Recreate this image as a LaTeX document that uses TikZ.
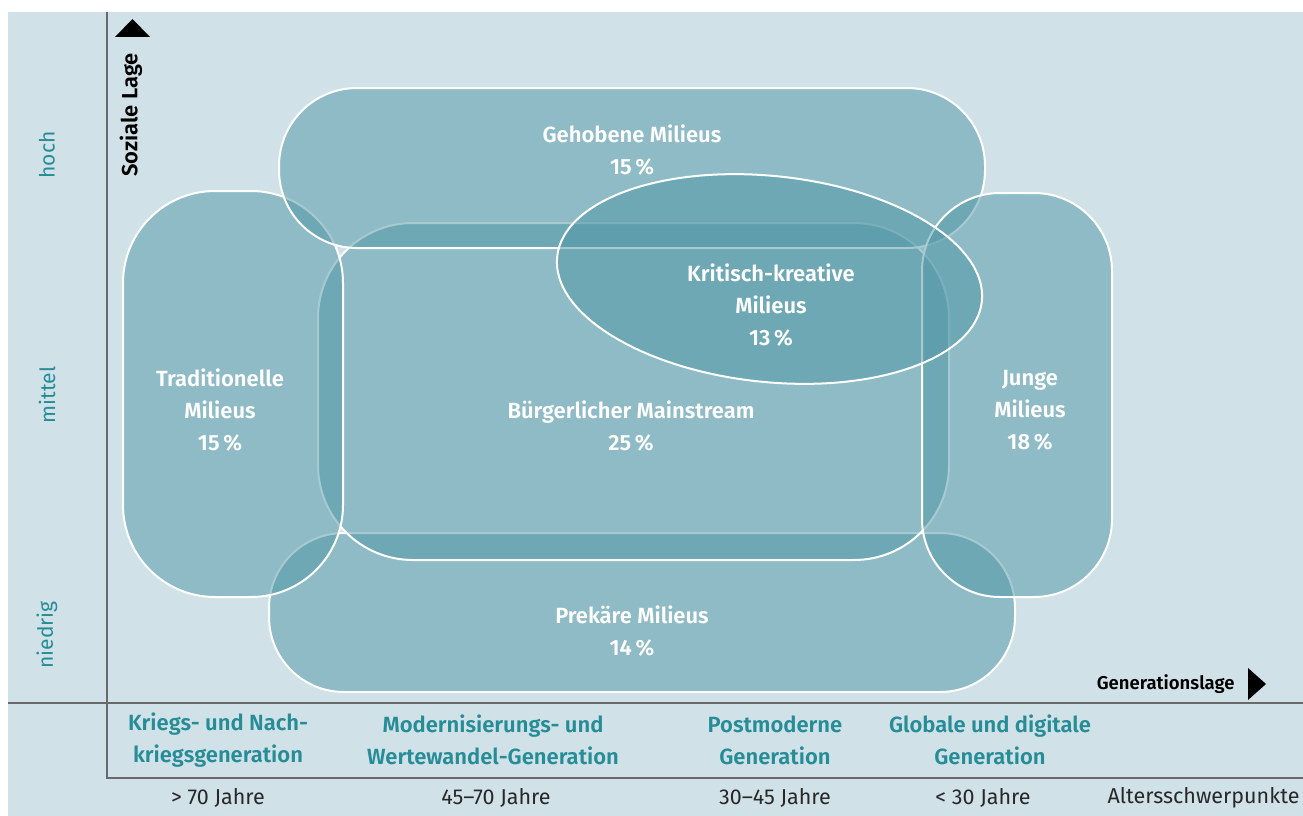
\documentclass[tikz,border=0pt]{standalone}
\usepackage{fontspec}
\setmainfont{Fira Sans}[BoldFont={Fira Sans SemiBold}]
\definecolor{bgblue}{RGB}{208,225,232}
\definecolor{milieufill}{RGB}{80,150,165}
\definecolor{tealtext}{RGB}{38,140,150}
\definecolor{axisgray}{RGB}{105,105,105}
\definecolor{agegray}{RGB}{40,40,40}
\begin{document}
\begin{tikzpicture}[x=1pt,y=-1pt,
  milieu/.style={fill=milieufill, fill opacity=0.5, draw=white, line width=2pt},
  milieutext/.style={text=white, font=\bfseries\fontsize{22}{32}\selectfont, align=center},
  gentext/.style={text=tealtext, font=\bfseries\fontsize{22}{32}\selectfont, align=center},
  agetext/.style={text=agegray, font=\fontsize{21.5}{24}\selectfont},
  leveltext/.style={text=tealtext, font=\fontsize{21}{24}\selectfont, rotate=90},
  axistext/.style={text=black, font=\bfseries\fontsize{18.5}{24}\selectfont},
  axisline/.style={draw=axisgray, line width=1.8pt}]

% page and panel background
\fill[white] (0,0) rectangle (1303,816);
\fill[bgblue] (8,12) rectangle (1303,816);
\useasboundingbox (0,0) rectangle (1303,816);

% milieu areas, lowest first
\draw[milieu, rounded corners=75] (269,533) rectangle (1015,692);
\draw[milieu, rounded corners=95] (318,223) rectangle (949,560);
\draw[milieu, rounded corners=92] (123,191) rectangle (343,597);
\draw[milieu, rounded corners=78] (279,88) rectangle (985,248);
\draw[milieu, rounded corners=78] (922,193) rectangle (1112,597);
\draw[milieu, rotate around={-6:(769.5,279)}] (769.5,279) ellipse [x radius=213.5, y radius=103];

% milieu labels
\node[milieutext] (gehobene) at (632,150) {Gehobene Milieus\\15\,\%};
\node[milieutext] (kritisch) at (771,305) {Kritisch-kreative\\Milieus\\13\,\%};
\node[milieutext] (traditionelle) at (220,410) {Traditionelle\\Milieus\\15\,\%};
\node[milieutext] (mainstream) at (631,426) {Bürgerlicher Mainstream\\25\,\%};
\node[milieutext] (junge) at (1030,410) {Junge\\Milieus\\18\,\%};
\node[milieutext] (prekaere) at (632,631) {Prekäre Milieus\\14\,\%};

% axes
\coordinate (ytop) at (107,12);
\coordinate (corner) at (107,778);
\coordinate (xend) at (1303,778);
\coordinate (sepleft) at (8,703);
\coordinate (sepright) at (1303,703);
\draw[axisline] (ytop) -- (corner) -- (xend);
\draw[axisline] (sepleft) -- (sepright);

% axis arrows and titles
\fill[black] (115,37) -- (150,37) -- (132.5,19) -- cycle;
\fill[black] (1248,668) -- (1248,700) -- (1266,684) -- cycle;
\node[axistext, font=\bfseries\fontsize{22}{24}\selectfont, rotate=90] (soziale) at (131,115) {Soziale Lage};
\node[axistext, anchor=east] (generationslage) at (1238,684) {Generationslage};

% social levels
\node[leveltext] (hoch) at (47,155) {hoch};
\node[leveltext] (mittel) at (47,395) {mittel};
\node[leveltext] (niedrig) at (47,635) {niedrig};

% generations
\node[gentext] (gen1) at (218,740) {Kriegs- und Nach-\\kriegsgeneration};
\node[gentext] (gen2) at (493,740) {Modernisierungs- und\\Wertewandel-Generation};
\node[gentext] (gen3) at (775,740) {Postmoderne\\Generation};
\node[gentext] (gen4) at (990,740) {Globale und digitale\\Generation};

% age focus
\node[agetext] (age1) at (218,798) {> 70 Jahre};
\node[agetext] (age2) at (496,798) {45–70 Jahre};
\node[agetext] (age3) at (775,798) {30–45 Jahre};
\node[agetext] (age4) at (983,798) {< 30 Jahre};
\node[agetext, anchor=east] (agelabel) at (1303,798) {Altersschwerpunkte};
\end{tikzpicture}
\end{document}
